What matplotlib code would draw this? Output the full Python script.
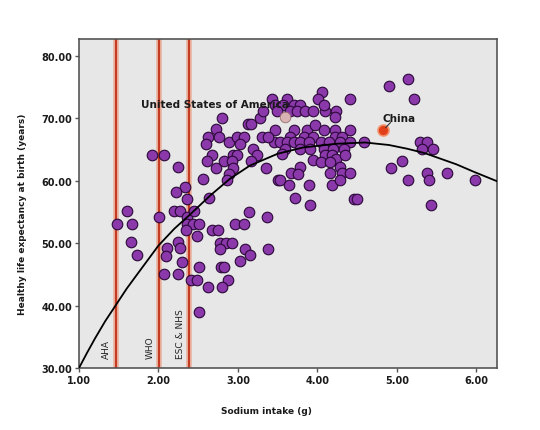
"""
Sodium intake vs healthy life expectancy scatter
"""

import matplotlib
matplotlib.use('agg')
import matplotlib.pyplot as plt

# points: (sodium g, healthy life expectancy years)
sodium = [
    1.48, 1.60, 1.67, 1.66, 1.73, 1.92, 2.07, 2.01, 2.24, 2.33, 2.22, 2.36,
    2.19, 2.27, 2.36, 2.45, 2.36, 2.44, 2.51, 2.35, 2.48, 2.11, 2.09, 2.25,
    2.27, 2.30, 2.07, 2.24, 2.41, 2.49, 2.51, 2.51, 2.56, 2.64, 2.62, 2.60,
    2.72, 2.76, 2.80, 2.89, 2.99, 3.07, 3.03, 3.19, 3.24, 3.17, 2.67, 2.61,
    2.72, 2.82, 2.94, 2.99, 2.92, 2.94, 2.89, 2.86, 3.35, 3.51, 3.13, 3.17,
    3.28, 3.32, 3.43, 3.47, 3.45, 3.47, 3.30, 3.38, 3.14, 3.36, 2.96, 3.07,
    2.67, 2.75, 2.78, 2.85, 2.92, 2.78, 3.09, 3.15, 3.03, 3.38, 2.79, 2.82,
    2.87, 2.62, 2.80,
    4.06, 4.01, 4.41, 3.62, 3.57, 3.70, 3.78, 3.49, 3.66, 3.74, 3.85, 3.95,
    4.10, 4.24, 4.08, 4.22, 3.70, 3.87, 3.97, 4.08, 4.22, 4.41, 3.66, 3.83,
    3.95, 4.22, 4.31, 3.53, 3.62, 3.70, 3.78, 3.89, 4.04, 4.14, 4.29, 4.41,
    4.59, 3.59, 3.78, 3.91, 4.08, 4.20, 4.33, 3.55, 3.95, 4.10, 4.18, 4.24,
    4.35, 4.04, 4.16, 4.29, 3.78, 3.67, 3.75, 4.16, 4.31, 4.41, 3.53, 3.64,
    3.89, 4.18, 4.29, 3.72, 3.91, 4.46, 4.50,
    4.90, 5.14, 5.21, 5.29, 5.38, 5.32, 5.45, 5.06, 4.92, 5.14, 5.38, 5.40,
    5.63, 5.98, 5.43,
]
life_exp = [
    53.0, 55.1, 53.0, 50.1, 48.1, 64.1, 64.1, 54.1, 62.1, 59.0, 58.1, 57.0,
    55.1, 55.1, 54.1, 55.1, 53.1, 53.0, 53.0, 52.1, 51.1, 49.2, 48.0, 50.2,
    49.2, 47.0, 45.1, 45.1, 44.1, 44.1, 46.1, 39.0, 60.2, 57.2, 67.0, 65.9,
    68.2, 67.0, 70.0, 66.1, 67.0, 67.0, 65.9, 65.1, 64.1, 63.1, 64.1, 63.1,
    62.0, 63.1, 64.1, 64.1, 63.1, 62.0, 61.0, 60.1, 62.0, 60.1, 69.1, 69.1,
    70.0, 71.1, 73.1, 72.1, 66.1, 68.1, 67.0, 67.0, 55.0, 54.1, 53.0, 53.0,
    52.1, 52.1, 50.0, 50.0, 50.0, 49.1, 49.1, 48.1, 47.1, 49.1, 46.1, 46.1,
    44.1, 43.0, 43.0,
    74.2, 73.1, 73.1, 73.1, 72.1, 72.1, 72.1, 71.2, 71.2, 71.2, 71.2, 71.2,
    71.2, 71.2, 72.1, 70.2, 68.1, 68.1, 68.9, 68.1, 68.1, 68.1, 67.0, 67.0,
    67.0, 67.0, 67.0, 66.2, 66.2, 66.2, 66.2, 66.2, 66.2, 66.2, 66.2, 66.2,
    66.1, 65.1, 65.1, 65.1, 65.1, 65.1, 65.1, 64.3, 63.3, 64.1, 64.1, 63.5,
    64.1, 63.0, 63.0, 62.2, 62.2, 61.2, 61.0, 61.2, 61.2, 61.2, 60.1, 59.3,
    59.3, 59.3, 60.1, 57.2, 56.1, 57.1, 57.1,
    75.1, 76.2, 73.1, 66.2, 66.2, 65.1, 65.1, 63.1, 62.0, 60.1, 61.2, 60.1,
    61.2, 60.1, 56.1,
]

# labelled countries
usa = (3.59, 70.2)
china = (4.83, 68.1)

# fitted curve
curve_x = [1.00, 1.10, 1.20, 1.33, 1.46, 1.60, 1.75, 2.00, 2.20, 2.40, 2.65,
           2.90, 3.15, 3.50, 3.82, 4.24, 4.60, 4.90, 5.13, 5.35, 5.55, 5.75,
           5.97, 6.26]
curve_y = [30.0, 32.4, 34.7, 37.5, 40.0, 42.7, 45.3, 49.6, 52.3, 54.6, 57.6,
           60.3, 62.4, 64.3, 65.3, 65.9, 66.1, 65.7, 65.1, 64.4, 63.5, 62.6,
           61.4, 59.9]

# recommended limits
guide_x = [1.46, 2.01, 2.39]
guide_labels = ['AHA', 'WHO', 'ESC & NHS']

x_ticks = [1, 2, 3, 4, 5, 6]
y_ticks = [30, 40, 50, 60, 70, 80]

fig = plt.figure(figsize=(5.4, 4.31), dpi=100)
ax = fig.add_axes([0.1463, 0.1439, 0.7741, 0.7633])
ax.set_facecolor('#e7e7e7')

for gx, lab in zip(guide_x, guide_labels):
    ax.axvline(gx, color='#eba48c', lw=4, alpha=0.8, zorder=1)
    ax.axvline(gx, color='#c23b22', lw=1.5, zorder=2)
    ax.text(gx - 0.11, 31.6, lab, rotation=90, ha='center', va='bottom',
            fontsize=6.5, color='#222222', zorder=3)

ax.scatter(sodium, life_exp, s=58, c='#8a38aa', edgecolors='#2a0838',
           linewidths=0.8, zorder=4)
ax.scatter([usa[0]], [usa[1]], s=58, c='#d9b3b3', edgecolors='#9a7070',
           linewidths=0.6, zorder=5)
ax.scatter([china[0]], [china[1]], s=62, c='#e2401a', edgecolors='#f2906a',
           linewidths=1.2, zorder=5)
ax.plot([china[0] + 0.03, china[0] + 0.09], [china[1] + 0.4, china[1] + 1.2],
        color='#333333', lw=0.8, zorder=5)

ax.plot(curve_x, curve_y, color='black', lw=1.3, zorder=6)

ax.text(1.78, 72.3, 'United States of America', fontsize=7.5,
        fontweight='bold', color='#1a1a1a', va='center', zorder=7)
ax.text(4.82, 70.0, 'China', fontsize=7.5, fontweight='bold',
        color='#1a1a1a', va='center', zorder=7)

ax.set_xlim(1.0, 6.26)
ax.set_ylim(30.0, 82.67)
ax.set_xticks(x_ticks)
ax.set_yticks(y_ticks)
ax.set_xticklabels([f'{v:.2f}' for v in x_ticks])
ax.set_yticklabels([f'{v:.2f}' for v in y_ticks])
ax.tick_params(direction='out', length=3, width=1, color='#555555',
               labelsize=7, pad=2)
for lbl in ax.get_xticklabels() + ax.get_yticklabels():
    lbl.set_fontweight('bold')
    lbl.set_color('#1a1a1a')
for sp in ax.spines.values():
    sp.set_color('#555555')
    sp.set_linewidth(1.2)

ax.set_xlabel('Sodium intake (g)', fontsize=6.5, fontweight='bold',
              color='#1a1a1a')
ax.set_ylabel('Healthy life expectancy at birth (years)', fontsize=6.5,
              fontweight='bold', color='#1a1a1a')
ax.xaxis.set_label_coords(0.449, -0.115)
ax.yaxis.set_label_coords(-0.124, 0.47)

fig.savefig('out.png', dpi=100)
plt.close(fig)
